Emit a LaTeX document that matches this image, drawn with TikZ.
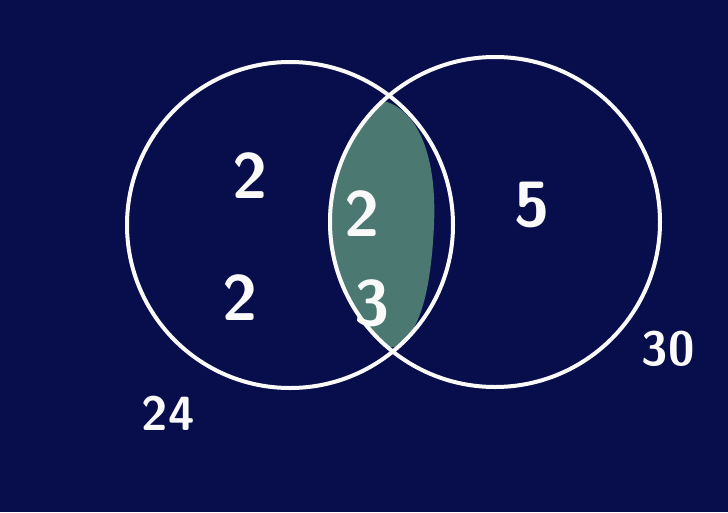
\documentclass[tikz,border=0pt]{standalone}
\usepackage{tikz}
\usetikzlibrary{positioning}
\definecolor{boardnavy}{RGB}{8,14,76}
\definecolor{chalkgreen}{RGB}{76,120,114}
\definecolor{chalkwhite}{RGB}{250,250,250}

\begin{document}
\begin{tikzpicture}[
    x=1pt, y=-1pt,
    setcircle/.style={circle, draw=chalkwhite, line width=4pt, minimum size=326pt, inner sep=0pt},
    digit/.style={text=chalkwhite, font=\fontsize{64}{66}\selectfont\sffamily\bfseries},
    total/.style={text=chalkwhite, font=\fontsize{48}{50}\selectfont\sffamily\bfseries}
]

% background
\fill[boardnavy] (0,0) rectangle (728,512);
\useasboundingbox (0,0) rectangle (728,512);

% shaded common part
\begin{scope}
  \clip (495,222) circle (167);
  \fill[chalkgreen] (380,100) .. controls (420,108) and (437,160) .. (434,225)
     .. controls (431,290) and (420,335) .. (395,347)
     -- (320,347) -- (320,120) -- (350,110) -- cycle;
\end{scope}

\node[setcircle] (lcirc) at (290,225) {};
\node[setcircle, minimum size=330pt] (rcirc) at (495,222) {};

\node[digit] (a1) at (250,176) {2};
\node[digit] (a2) at (240,298) {2};
\node[digit] (c1) at (362,214) {2};
\node[digit] (c2) at (372,303) {3};
\node[digit] (b1) at (532,205) {5};

\node[total] (ltot) at (168,413) {24};
\node[total] (rtot) at (668,349) {30};

\end{tikzpicture}
\end{document}
